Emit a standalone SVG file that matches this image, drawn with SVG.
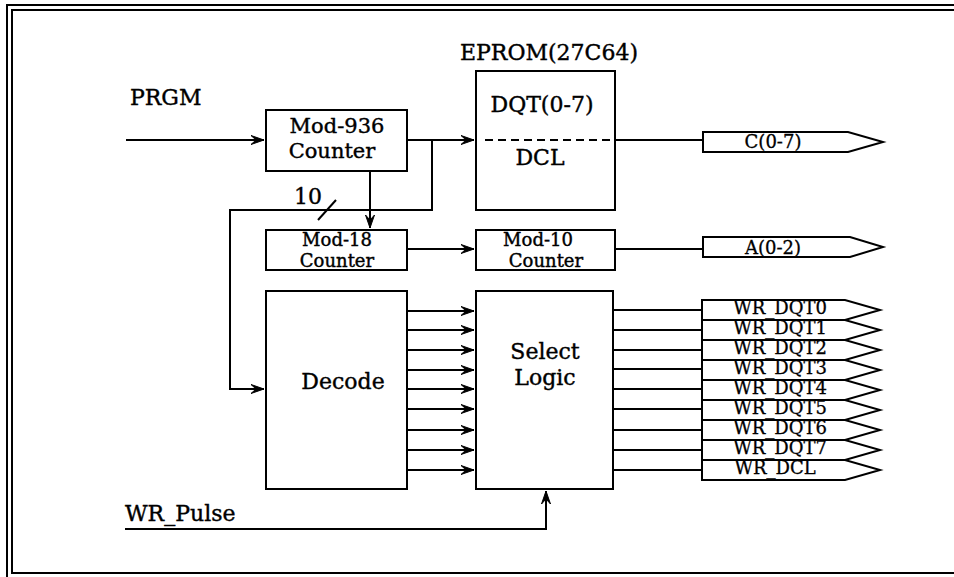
<svg xmlns="http://www.w3.org/2000/svg" width="954" height="577" viewBox="0 0 954 577">
<style>
.box{fill:#fff;stroke:#000;stroke-width:2}
.ln{fill:none;stroke:#000;stroke-width:2}
.t{font-family:"DejaVu Serif","Liberation Serif",serif;font-size:22px;fill:#000;stroke:#000;stroke-width:0.4}
.c{font-size:18px}
.b{font-size:21px}
.s{font-family:"DejaVu Serif","Liberation Serif",serif;font-size:18px;fill:#000;stroke:#000;stroke-width:0.3}
.m{text-anchor:middle}
</style>
<defs>
<marker id="ar" viewBox="-14 -6 16 12" refX="0" refY="0" markerWidth="16" markerHeight="12" markerUnits="userSpaceOnUse" orient="auto">
<path d="M-13,-4.5 L0,0 L-13,4.5 L-8,0 Z" fill="#000" stroke="#000" stroke-width="1"/>
</marker>
</defs>
<g id="frame" fill="none" stroke="#000" stroke-width="2">
<path d="M7,577 V5 H954"/>
<path d="M12,574 V10 H954"/>
<path d="M12,573 H954"/>
</g>
<g id="connectors">
<path class="ln" d="M126,140 H264" marker-end="url(#ar)"/>
<path class="ln" d="M407,140 H474" marker-end="url(#ar)"/>
<path class="ln" d="M432,140 V210 H230 V389 H264" marker-end="url(#ar)"/>
<path class="ln" d="M370,171 V228" marker-end="url(#ar)"/>
<path class="ln" d="M318,220 L336,200"/>
<path class="ln" d="M407,249 H474" marker-end="url(#ar)"/>
<path class="ln" d="M615,140 H703"/>
<path class="ln" d="M615,249 H703"/>
<path class="ln" d="M125,529 H546 V491" marker-end="url(#ar)"/>
<g id="dec-sel">
<path class="ln" d="M407,311 H474" marker-end="url(#ar)"/>
<path class="ln" d="M407,330 H474" marker-end="url(#ar)"/>
<path class="ln" d="M407,350 H474" marker-end="url(#ar)"/>
<path class="ln" d="M407,370 H474" marker-end="url(#ar)"/>
<path class="ln" d="M407,389 H474" marker-end="url(#ar)"/>
<path class="ln" d="M407,409 H474" marker-end="url(#ar)"/>
<path class="ln" d="M407,430 H474" marker-end="url(#ar)"/>
<path class="ln" d="M407,450 H474" marker-end="url(#ar)"/>
<path class="ln" d="M407,470 H474" marker-end="url(#ar)"/>
</g>
<g id="sel-out">
<path class="ln" d="M613,310 H702"/>
<path class="ln" d="M613,330 H702"/>
<path class="ln" d="M613,350 H702"/>
<path class="ln" d="M613,369 H702"/>
<path class="ln" d="M613,389 H702"/>
<path class="ln" d="M613,409 H702"/>
<path class="ln" d="M613,430 H702"/>
<path class="ln" d="M613,450 H702"/>
<path class="ln" d="M613,470 H702"/>
</g>
</g>
<text class="t" x="130" y="105">PRGM</text>
<text class="t" x="294" y="204">10</text>
<text class="t" x="125" y="521">WR_Pulse</text>
<g id="mod936">
<rect class="box" x="266" y="110" width="141" height="61"/>
<text class="t b m" x="337" y="133">Mod-936</text>
<text class="t b m" x="332" y="158">Counter</text>
</g>
<g id="eprom">
<text class="t m" x="549" y="60">EPROM(27C64)</text>
<rect class="box" x="476" y="71" width="139" height="139"/>
<text class="t m" x="542" y="112">DQT(0-7)</text>
<path d="M485,140 H615" fill="none" stroke="#000" stroke-width="2" stroke-dasharray="8,5"/>
<text class="t m" x="540" y="165">DCL</text>
</g>
<g id="mod18">
<rect class="box" x="266" y="230" width="141" height="40"/>
<text class="t c m" x="337" y="245.5">Mod-18</text>
<text class="t c m" x="337" y="266.5">Counter</text>
</g>
<g id="mod10">
<rect class="box" x="476" y="230" width="139" height="40"/>
<text class="t c m" x="538" y="245.5">Mod-10</text>
<text class="t c m" x="546" y="266.5">Counter</text>
</g>
<g id="decode">
<rect class="box" x="266" y="291" width="141" height="198"/>
<text class="t m" x="343" y="389">Decode</text>
</g>
<g id="select">
<rect class="box" x="476" y="291" width="137" height="198"/>
<text class="t m" x="545" y="359">Select</text>
<text class="t m" x="545" y="385">Logic</text>
</g>
<g id="c07">
<path class="box" d="M703,132 H848 L883,142 L848,152 H703 Z"/>
<text class="s m" x="773" y="148">C(0-7)</text>
</g>
<g id="a02">
<path class="box" d="M703,237 H850 L883,247 L850,257 H703 Z"/>
<text class="s m" x="773" y="254">A(0-2)</text>
</g>
<g id="wr">
<path class="box" d="M702,300 H845 L880,310 L845,320 H702 Z"/>
<path class="box" d="M702,320 H845 L880,330 L845,340 H702 Z"/>
<path class="box" d="M702,340 H845 L880,350 L845,360 H702 Z"/>
<path class="box" d="M702,360 H845 L880,370 L845,380 H702 Z"/>
<path class="box" d="M702,380 H845 L880,390 L845,400 H702 Z"/>
<path class="box" d="M702,400 H845 L880,410 L845,420 H702 Z"/>
<path class="box" d="M702,420 H845 L880,430 L845,440 H702 Z"/>
<path class="box" d="M702,440 H845 L880,450 L845,460 H702 Z"/>
<path class="box" d="M702,460 H845 L880,470 L845,480 H702 Z"/>
<text class="s m" x="780" y="314">WR_DQT0</text>
<text class="s m" x="780" y="334">WR_DQT1</text>
<text class="s m" x="780" y="354">WR_DQT2</text>
<text class="s m" x="780" y="374">WR_DQT3</text>
<text class="s m" x="780" y="394">WR_DQT4</text>
<text class="s m" x="780" y="414">WR_DQT5</text>
<text class="s m" x="780" y="434">WR_DQT6</text>
<text class="s m" x="780" y="454">WR_DQT7</text>
<text class="s m" x="775" y="474">WR_DCL</text>
</g>
</svg>
